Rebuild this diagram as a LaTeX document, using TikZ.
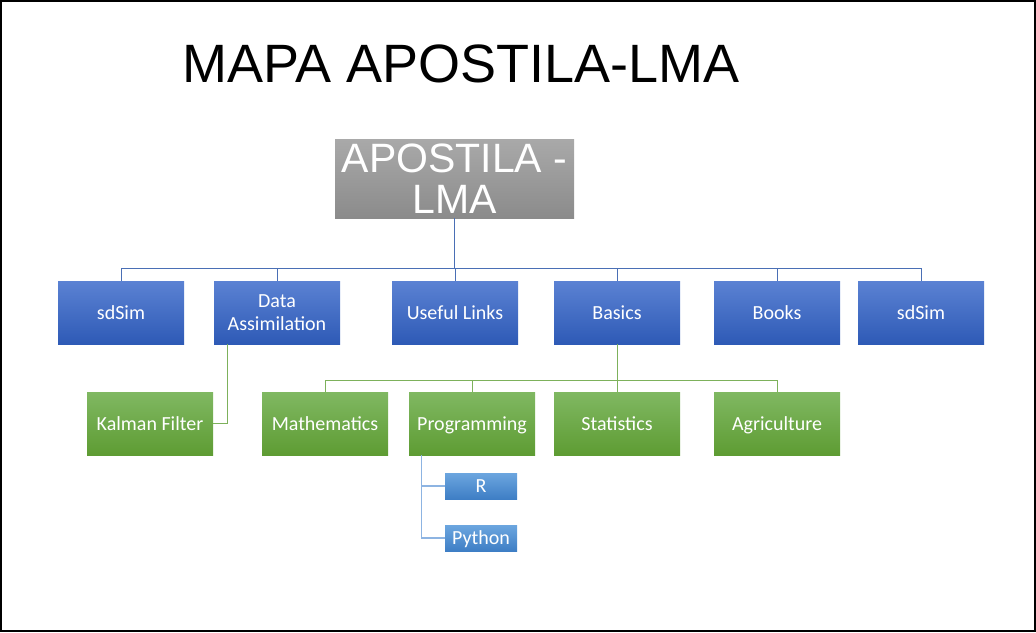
\documentclass[tikz,border=0pt]{standalone}
\usepackage{fontspec}
\setmainfont{Carlito}
\newfontfamily\titlefont{Liberation Sans}
\usepackage{tikz}
\usepackage{xcolor}
\usetikzlibrary{positioning, calc}
\definecolor{graytop}{HTML}{A9A9A9}
\definecolor{graybot}{HTML}{8B8B8B}
\definecolor{bluetop}{HTML}{5B82D3}
\definecolor{bluebot}{HTML}{2E5AB6}
\definecolor{greentop}{HTML}{80B862}
\definecolor{greenbot}{HTML}{5E9C33}
\definecolor{subtop}{HTML}{6CA6DF}
\definecolor{subbot}{HTML}{3E7EC5}
\definecolor{linkblue}{HTML}{4A6FB5}
\definecolor{linkgreen}{HTML}{7DB15B}
\definecolor{linksub}{HTML}{8DB4E2}

\begin{document}
\begin{tikzpicture}[x=1pt, y=-1pt,
    rootbox/.style={rectangle, top color=graytop, bottom color=graybot, draw=none, minimum width=239pt, minimum height=79pt, inner sep=0pt, align=center, text=white, font=\titlefont\fontsize{41}{41}\selectfont},
    bluebox/.style={rectangle, top color=bluetop, bottom color=bluebot, draw=none, minimum width=126pt, minimum height=63pt, inner sep=0pt, align=center, text=white, text height=15pt, text depth=2pt, font=\fontsize{20}{23}\selectfont},
    greenbox/.style={bluebox, top color=greentop, bottom color=greenbot},
    subbox/.style={bluebox, top color=subtop, bottom color=subbot, minimum width=72pt, minimum height=26pt},
    bluelink/.style={draw=linkblue, line width=1pt},
    greenlink/.style={draw=linkgreen, line width=1pt},
    sublink/.style={draw=linksub, line width=1.2pt}]
    \useasboundingbox (0,0) rectangle (1036,632);
    \draw[line width=2pt] (1,1) rectangle (1035,631);
    \node[anchor=base, font=\titlefont\fontsize{54}{54}\selectfont] (title) at (461,82) {MAPA APOSTILA-LMA};
    % top of the tree
    \node[rootbox] (root) at (454.5,178.5) {APOSTILA -\\LMA};
    % first level
    \node[bluebox] (sda) at (121,312.5) {sdSim};
    \node[bluebox, text height={}, text depth={}] (da) at (277,312.5) {Data\\Assimilation};
    \node[bluebox] (ul) at (455,312.5) {Useful Links};
    \node[bluebox] (bas) at (617,312.5) {Basics};
    \node[bluebox] (bk) at (777,312.5) {Books};
    \node[bluebox] (sdb) at (921,312.5) {sdSim};
    % second level
    \node[greenbox] (kal) at (150,423.5) {Kalman Filter};
    \node[greenbox] (mat) at (325,423.5) {Mathematics};
    \node[greenbox] (prog) at (472,423.5) {Programming};
    \node[greenbox] (stat) at (617,423.5) {Statistics};
    \node[greenbox] (agr) at (777,423.5) {Agriculture};
    % third level
    \node[subbox] (r) at (481,486) {R};
    \node[subbox] (py) at (481,538) {Python};
    % connectors
    \coordinate (hub1) at ($(root.south)+(0,50)$);
    \draw[bluelink] (root.south) -- (hub1);
    \foreach \n in {sda,da,ul,bas,bk,sdb}
        \draw[bluelink] (hub1) -| (\n.north);
    \coordinate (hub2) at ($(bas.south)+(0,36)$);
    \draw[greenlink] (bas.south) -- (hub2);
    \foreach \n in {mat,prog,stat,agr}
        \draw[greenlink] (hub2) -| (\n.north);
    \draw[greenlink] ([xshift=14pt]da.south west) |- (kal.east);
    \draw[sublink] ([xshift=13pt]prog.south west) |- (r.west);
    \draw[sublink] ([xshift=13pt]prog.south west) |- (py.west);
\end{tikzpicture}
\end{document}
